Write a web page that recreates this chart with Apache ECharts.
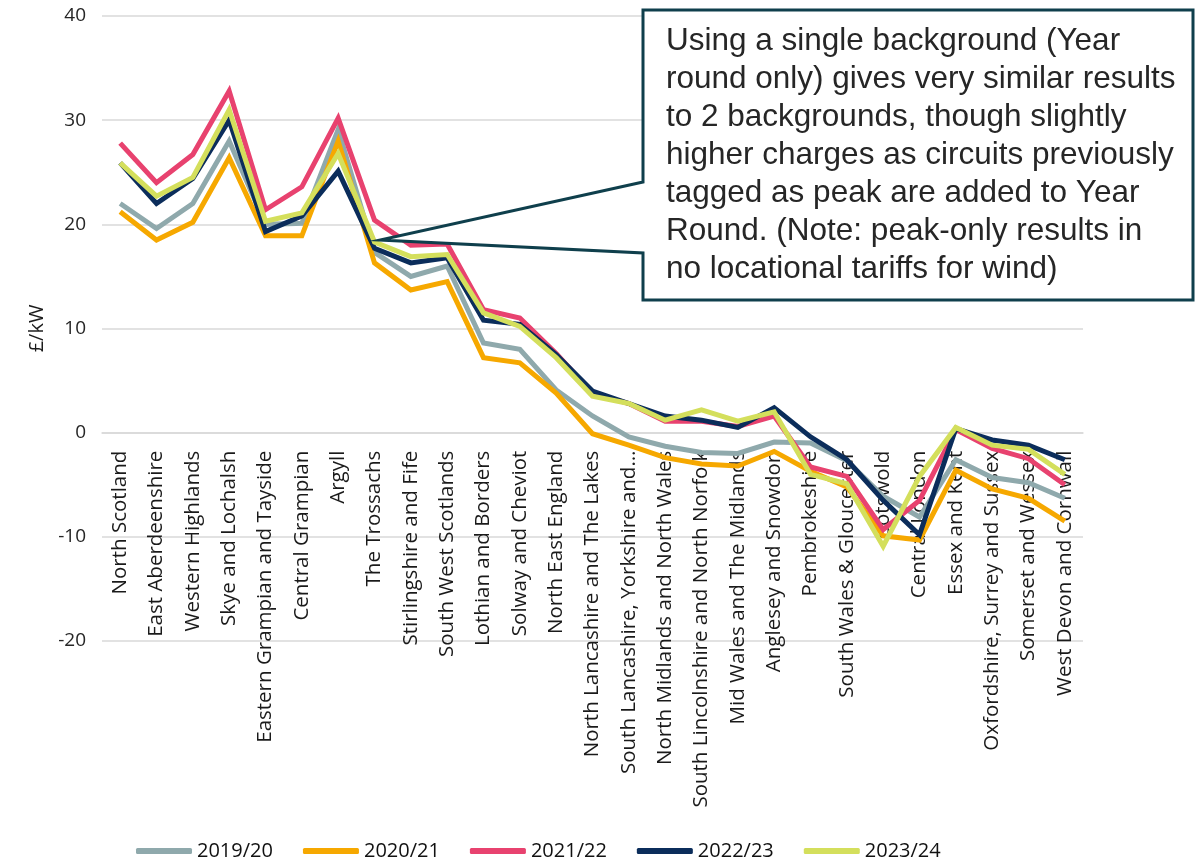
<!DOCTYPE html>
<html>
<head>
<meta charset="utf-8">
<script src="https://cdn.jsdelivr.net/npm/echarts@6/dist/echarts.min.js"></script>
<style>
  html, body { margin: 0; padding: 0; background: #ffffff; }
  #chart { width: 1196px; height: 860px; }
</style>
</head>
<body>
<div id="chart"></div>
<script>
// Generation zones, north to south
const zones = [
  'North Scotland', 'East Aberdeenshire', 'Western Highlands', 'Skye and Lochalsh',
  'Eastern Grampian and Tayside', 'Central Grampian', 'Argyll', 'The Trossachs',
  'Stirlingshire and Fife', 'South West Scotlands', 'Lothian and Borders',
  'Solway and Cheviot', 'North East England', 'North Lancashire and The Lakes',
  'South Lancashire, Yorkshire and\u2026', 'North Midlands and North Wales',
  'South Lincolnshire and North Norfolk', 'Mid Wales and The Midlands',
  'Anglesey and Snowdon', 'Pembrokeshire', 'South Wales & Gloucester', 'Cotswold',
  'Central London', 'Essex and Kent', 'Oxfordshire, Surrey and Sussex',
  'Somerset and Wessex', 'West Devon and Cornwall'
];

// Tariff (£/kW) by charging year
const y2019 = [22.0, 19.6, 22.0, 28.0, 20.0, 20.1, 29.1, 17.3, 15.0, 16.0, 8.6, 8.0, 4.1, 1.6, -0.4, -1.3, -1.9, -2.0, -0.9, -1.0, -2.7, -6.1, -8.1, -2.6, -4.3, -4.8, -6.3];
const y2020 = [21.2, 18.5, 20.2, 26.4, 18.9, 18.9, 28.0, 16.3, 13.7, 14.5, 7.2, 6.7, 3.8, -0.1, -1.2, -2.4, -3.0, -3.2, -1.8, -3.7, -5.2, -9.9, -10.3, -3.6, -5.4, -6.3, -8.5];
const y2021 = [27.8, 24.0, 26.7, 32.8, 21.4, 23.6, 30.2, 20.4, 18.0, 18.1, 11.8, 11.0, 7.6, 3.8, 2.8, 1.1, 1.1, 0.6, 1.6, -3.3, -4.2, -9.3, -6.5, 0.3, -1.5, -2.5, -5.0];
const y2022 = [25.9, 22.0, 24.4, 30.0, 19.3, 20.8, 25.1, 17.7, 16.3, 16.8, 10.8, 10.4, 7.5, 4.0, 2.8, 1.6, 1.2, 0.5, 2.4, -0.4, -2.6, -6.5, -9.8, 0.4, -0.7, -1.2, -2.6];
const y2023 = [25.9, 22.7, 24.5, 31.0, 20.3, 21.1, 26.8, 18.3, 16.9, 17.1, 11.5, 10.2, 7.2, 3.5, 2.8, 1.2, 2.2, 1.1, 2.0, -4.0, -4.9, -10.9, -4.2, 0.5, -1.2, -1.6, -4.0];

const yearNames = ['2019/20', '2020/21', '2021/22', '2022/23', '2023/24'];
const yearData = [y2019, y2020, y2021, y2022, y2023];
const yearColors = ['#8FA9AC', '#F6A800', '#E8426F', '#0B2D5B', '#D4DF5C'];

const noteText = [
  'Using a single background (Year',
  'round only) gives very similar results',
  'to 2 backgrounds, though slightly',
  'higher charges as circuits previously',
  'tagged as peak are added to Year',
  'Round. (Note: peak-only results in',
  'no locational tariffs for wind)'
].join('\n');

const Y_MIN = -20, Y_MAX = 40;
const GRID_TOP = 16, GRID_BOTTOM = 219, CHART_H = 860;

// Category labels sit against the zero line: shift the x axis up from the grid floor
const plotH = CHART_H - GRID_TOP - GRID_BOTTOM;
const zeroShift = plotH * (0 - Y_MIN) / (Y_MAX - Y_MIN);

const chart = echarts.init(document.getElementById('chart'), null, { renderer: 'canvas' });

chart.setOption({
  backgroundColor: '#ffffff',
  animation: false,
  grid: { left: 102, right: 113, top: GRID_TOP, bottom: GRID_BOTTOM, containLabel: false, outerBoundsMode: 'none' },
  legend: {
    data: yearNames,
    left: 131,
    top: 836,
    icon: 'roundRect',
    itemWidth: 56,
    itemHeight: 6,
    itemGap: 30,
    textStyle: { fontFamily: 'Open Sans', fontSize: 20, color: '#111111' }
  },
  xAxis: {
    type: 'category',
    data: zones,
    boundaryGap: true,
    offset: -zeroShift,
    axisLine: { show: true, onZero: false, lineStyle: { color: '#D9D9D9', width: 1.5 } },
    axisTick: { show: false },
    splitLine: { show: false },
    axisLabel: {
      interval: 0,
      rotate: 90,
      margin: 18,
      fontFamily: 'Open Sans',
      fontSize: 20.5,
      color: '#1a1a1a'
    }
  },
  yAxis: {
    type: 'value',
    min: Y_MIN,
    max: Y_MAX,
    interval: 10,
    name: '£/kW',
    nameLocation: 'middle',
    nameGap: 52,
    nameRotate: 90,
    nameTextStyle: { fontFamily: 'Open Sans', fontSize: 20, color: '#1a1a1a' },
    axisLine: { show: false },
    axisTick: { show: false },
    axisLabel: { fontFamily: 'Open Sans', fontSize: 19, color: '#262626', margin: 16 },
    splitLine: { show: true, lineStyle: { color: '#D9D9D9', width: 1.5 } }
  },
  series: yearNames.map((name, i) => ({
    name: name,
    type: 'line',
    data: yearData[i],
    symbol: 'none',
    color: yearColors[i],
    lineStyle: { width: 5, color: yearColors[i], join: 'miter' },
    z: 2 + i
  })),
  graphic: [
    {
      type: 'polygon',
      z: 100,
      shape: {
        points: [[643, 10], [1193, 10], [1193, 300], [643, 300], [643, 253], [380, 240], [643, 182]]
      },
      style: { fill: '#ffffff', stroke: '#0F3F4C', lineWidth: 3, lineJoin: 'miter' }
    },
    {
      type: 'text',
      z: 101,
      left: 666,
      top: 22,
      style: {
        text: noteText,
        font: '31.5px "Liberation Sans", Arial, sans-serif',
        lineHeight: 38,
        fill: '#262626'
      }
    }
  ]
});
</script>
</body>
</html>
